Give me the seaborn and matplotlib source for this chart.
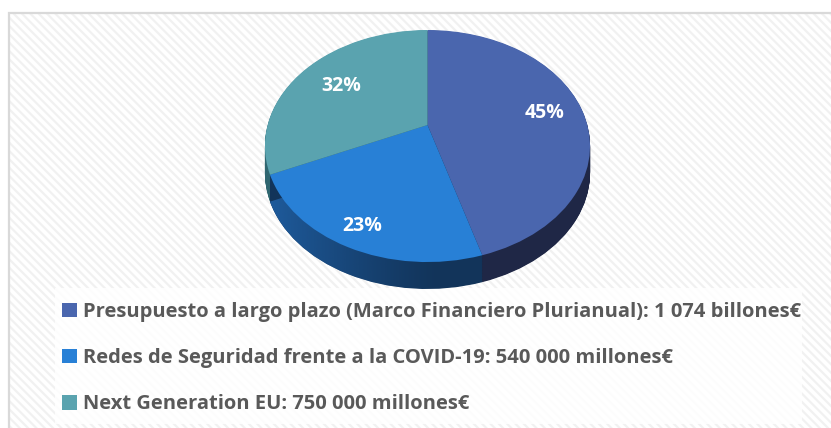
import matplotlib
matplotlib.use("Agg")
import numpy as np
import matplotlib.pyplot as plt
from matplotlib.patches import Rectangle, Patch
from matplotlib.transforms import Transform, Affine2D
import seaborn as sns

# ---- data ----
categories = [
    "Presupuesto a largo plazo (Marco Financiero Plurianual): 1 074 billones€",
    "Redes de Seguridad frente a la COVID-19: 540 000 millones€",
    "Next Generation EU: 750 000 millones€",
]
values = [1074, 540, 750]
pct_labels = ["45%", "23%", "32%"]

# ---- styles ----
top_colors = ["#4A66AE", "#2880D6", "#5AA3AF"]
side_colors = ["#1F2746", "#12345A", "#2F6670"]
label_pos = [(0.73, 0.107), (-0.41, -0.90), (-0.54, 0.35)]


class Perspective(Transform):
    """Simple projective tilt of the pie plane (far side smaller)."""
    input_dims = output_dims = 2
    is_separable = False
    has_inverse = False

    def __init__(self, k):
        super().__init__()
        self.k = k

    def transform_non_affine(self, values):
        v = np.asarray(values, dtype=float).reshape(-1, 2)
        w = 1.0 + self.k * v[:, 1]
        return np.column_stack([v[:, 0] / w, v[:, 1] / w])


sns.set_theme(style="white")
plt.rcParams["font.family"] = ["Open Sans", "DejaVu Sans"]
plt.rcParams["hatch.linewidth"] = 1.6

W, H = 831, 428
fig = plt.figure(figsize=(W / 100, H / 100), dpi=100)
fig.patch.set_facecolor("white")

# background hatch + border
fig.patches.append(Rectangle((9 / W, -0.2), 1.3, 1.2 - 13 / H, transform=fig.transFigure,
                             facecolor="white", edgecolor="#f1f1f1", hatch="\\\\\\\\", linewidth=0, zorder=0))
fig.patches.append(Rectangle((9 / W, -0.2), 1.3, 1.2 - 13 / H, transform=fig.transFigure,
                             facecolor="none", edgecolor="#d9d9d9", linewidth=1.6, zorder=0.5))
# legend backdrop
fig.patches.append(Rectangle((55 / W, 1 - 424 / H), (802 - 55) / W, (424 - 288) / H, transform=fig.transFigure,
                             facecolor="white", alpha=0.85, edgecolor="none", zorder=0.6))

# ---- pie geometry ----
k = 0.181
depth = 0.24
xmax = 1.0164
ytop = 1 / (1 + k)
ybot = -1 / (1 - k) - depth
px0, px1 = 265, 590
py0 = 30
yscale = 112.2
py1 = py0 + (ytop - ybot) * yscale
ax = fig.add_axes([px0 / W, 1 - py1 / H, (px1 - px0) / W, (py1 - py0) / H])
ax.set_zorder(2)
ax.set_facecolor("none")
persp = Perspective(k)

n = 45
bottom_wedges = None
for i in range(n, 0, -1):
    ws, _ = ax.pie(values, colors=side_colors, startangle=90, counterclock=False,
                   radius=1, wedgeprops=dict(linewidth=0))
    shift = Affine2D().translate(0, -depth * i / n)
    for w in ws:
        w.set_transform(persp + shift + ax.transData)
    if bottom_wedges is None:
        bottom_wedges = ws

# lighter gradient on the left part of the blue side
grad = np.zeros((2, 256, 4))
grad[..., :3] = matplotlib.colors.to_rgb("#2163AA")
grad[..., 3] = np.clip(np.linspace(1.0, -0.2, 256), 0, 1) ** 1.2 * 0.85
im = ax.imshow(grad, extent=[-xmax, 0.3, ybot, 0.0], aspect="auto", interpolation="bilinear")
im.set_zorder(1)
im.set_clip_path(bottom_wedges[1])

wedges, _t, autotexts = ax.pie(values, colors=top_colors, startangle=90, counterclock=False,
                               autopct="%1.0f%%", radius=1, wedgeprops=dict(linewidth=0),
                               textprops=dict(color="white", fontsize=14, fontweight="bold"))
for w in wedges:
    w.set_transform(persp + ax.transData)
    w.set_zorder(1.5)
for t, lab, pos in zip(autotexts, pct_labels, label_pos):
    t.set_text(lab)
    t.set_position(pos)
    t.set_zorder(3)
ax.set_aspect("auto")
ax.set_xlim(-xmax, xmax)
ax.set_ylim(ybot, ytop)
ax.axis("off")

handles = [Patch(facecolor=c, edgecolor="none") for c in top_colors]
leg = fig.legend(handles, categories, loc="upper left", bbox_to_anchor=(62 / W, 1 - 302 / H),
                 frameon=False, borderpad=0, borderaxespad=0, handlelength=0.72, handleheight=0.72,
                 handletextpad=0.33, labelspacing=1.3,
                 prop=dict(family=["Open Sans", "DejaVu Sans"], weight="bold", size=14.5))
leg.set_zorder(5)
for t in leg.get_texts():
    t.set_color("#595959")

fig.savefig("out.png", dpi=100)
